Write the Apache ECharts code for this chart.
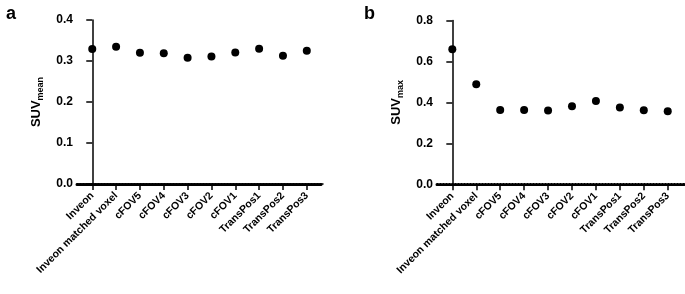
<!DOCTYPE html>
<html>
<head>
<meta charset="utf-8">
<script src="https://cdn.jsdelivr.net/npm/echarts@6/dist/echarts.min.js"></script>
<style>
  html, body { margin: 0; padding: 0; background: #fff; }
  #chart { width: 685px; height: 294px; }
</style>
</head>
<body>
<div id="chart"></div>
<script>
// categories along the x axis (same for both panels)
const categories = ['Inveon', 'Inveon matched voxel', 'cFOV5', 'cFOV4', 'cFOV3', 'cFOV2', 'cFOV1', 'TransPos1', 'TransPos2', 'TransPos3']
// panel a: SUVmean
const suvMean = [0.329, 0.335, 0.320, 0.319, 0.308, 0.311, 0.321, 0.330, 0.313, 0.325]
// panel b: SUVmax
const suvMax = [0.660, 0.489, 0.363, 0.363, 0.360, 0.381, 0.407, 0.375, 0.362, 0.357]

const FONT = '"Liberation Sans", Arial, sans-serif'
const catIdx = categories.map((c, i) => i)

function xAxes(gridIndex) {
  return [
    {
      type: 'value',
      gridIndex: gridIndex,
      min: -0.64,
      max: 9.68,
      splitLine: { show: false },
      axisLine: { lineStyle: { color: '#000', width: 1.5 } },
      axisTick: { customValues: catIdx, length: 6, lineStyle: { color: '#000', width: 1.5 } },
      axisLabel: {
        customValues: catIdx,
        rotate: 45,
        margin: 10,
        color: '#000',
        fontFamily: FONT,
        fontWeight: 'bold',
        fontSize: 10.5,
        formatter: v => categories[v]
      }
    },
    {
      // dotted overlay on the baseline
      type: 'value',
      gridIndex: gridIndex,
      min: -0.64,
      max: 9.68,
      position: 'bottom',
      splitLine: { show: false },
      axisTick: { show: false },
      axisLabel: { show: false },
      axisLine: { lineStyle: { color: '#000', width: 3, type: [1, 2] } }
    }
  ]
}

function yAxis(gridIndex, max, interval, sub) {
  return {
    type: 'value',
    gridIndex: gridIndex,
    min: 0,
    max: max,
    interval: interval,
    name: '{m|SUV}{s|' + sub + '}',
    nameLocation: 'middle',
    nameGap: 31,
    nameRotate: 90,
    nameTextStyle: {
      rich: {
        m: { fontFamily: FONT, fontWeight: 'bold', fontSize: 13, color: '#000', lineHeight: 20 },
        s: { fontFamily: FONT, fontWeight: 'bold', fontSize: 9, color: '#000', lineHeight: 10, padding: [9, 0, 0, 0] }
      }
    },
    splitLine: { show: false },
    axisLine: { show: true, lineStyle: { color: '#000', width: 1.5 } },
    axisTick: { show: true, length: 6, lineStyle: { color: '#000', width: 1.5 } },
    axisLabel: {
      margin: 4,
      color: '#000',
      fontFamily: FONT,
      fontWeight: 'bold',
      fontSize: 12,
      formatter: v => v.toFixed(1)
    }
  }
}

const chart = echarts.init(document.getElementById('chart'))
chart.setOption({
  animation: false,
  backgroundColor: '#fff',
  title: [
    { text: 'a', left: 1, top: 0, textStyle: { fontFamily: FONT, fontWeight: 'bold', fontSize: 18, color: '#000' } },
    { text: 'b', left: 359, top: 0, textStyle: { fontFamily: FONT, fontWeight: 'bold', fontSize: 18, color: '#000' } }
  ],
  grid: [
    { left: 77, top: 20, width: 246, height: 164 },
    { left: 437, top: 20.5, width: 247, height: 163.8 }
  ],
  xAxis: xAxes(0).concat(xAxes(1)),
  yAxis: [yAxis(0, 0.4, 0.1, 'mean'), yAxis(1, 0.8, 0.2, 'max')],
  series: [
    {
      type: 'scatter',
      xAxisIndex: 0,
      yAxisIndex: 0,
      symbolSize: 8,
      itemStyle: { color: '#000', opacity: 1 },
      data: suvMean.map((v, i) => [i, v])
    },
    {
      type: 'scatter',
      xAxisIndex: 2,
      yAxisIndex: 1,
      symbolSize: 8,
      itemStyle: { color: '#000', opacity: 1 },
      data: suvMax.map((v, i) => [i, v])
    }
  ]
})
</script>
</body>
</html>
